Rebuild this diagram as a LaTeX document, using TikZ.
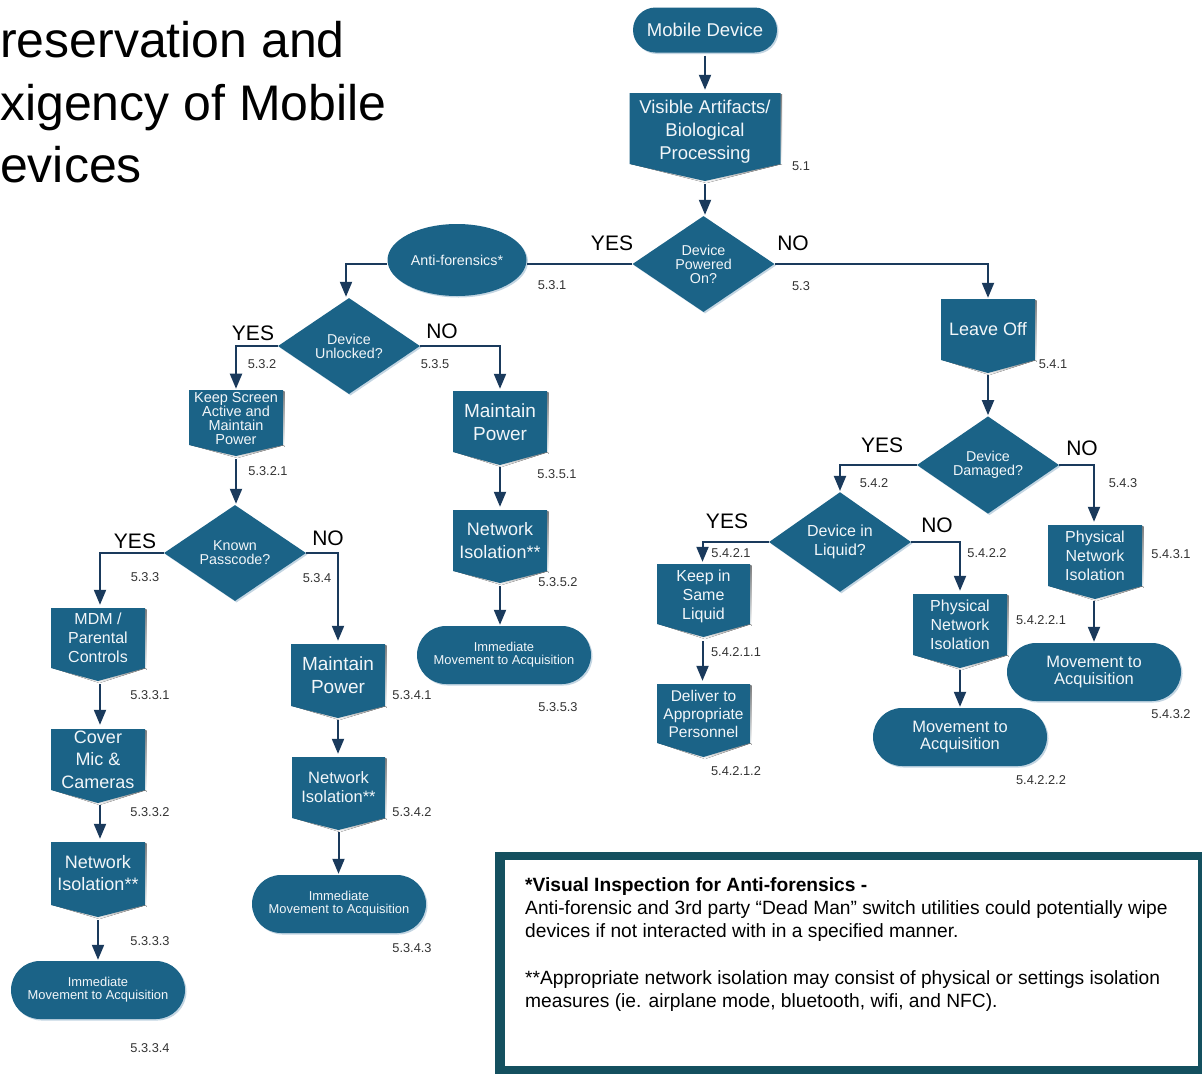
\documentclass[tikz,border=0pt]{standalone}
\usepackage{fontspec}
\setmainfont{Liberation Sans}
\usetikzlibrary{shapes.geometric,shapes.misc,arrows.meta,shadows}
\definecolor{boxblue}{HTML}{1B6387}
\definecolor{shade}{HTML}{C3D5E2}
\definecolor{linec}{HTML}{1A3A5C}
\definecolor{frame}{HTML}{14505F}
\definecolor{labelc}{HTML}{333333}
\definecolor{softwhite}{HTML}{F2F6F9}
\tikzset{
  flow/.style={fill=boxblue,text=softwhite,align=center,inner sep=0pt,
    copy shadow={shadow xshift=1.5pt,shadow yshift=-1.5pt,fill=shade,draw=none}},
  deci/.style={flow,diamond,minimum width=142pt,minimum height=96pt,font=\fontsize{14.3}{14}\selectfont},
  term/.style={flow,rounded rectangle,minimum width=174pt,minimum height=58pt},
  bodytxt/.style={rectangle,inner sep=0pt,text=softwhite,align=center},
  conn/.style={draw=linec,line width=2pt,-{Stealth[length=15pt,width=12pt,inset=0pt]},shorten >=1pt},
  numlab/.style={inner sep=0pt,text=labelc,font=\fontsize{12.8}{14}\selectfont},
  yn/.style={inner sep=0pt,text=black,font=\fontsize{21}{23}\selectfont},
  titletxt/.style={inner sep=0pt,anchor=base west,text=black,font=\fontsize{50}{56}\selectfont},
  notetxt/.style={inner sep=0pt,anchor=base west,text=black,font=\fontsize{19.2}{21}\selectfont}
}
% name, centre x, top y, width, rect height, tip height, font size, leading, text
\newcommand{\offp}[9]{%
  \fill[shade] ({#2-#4/2+1.5},{#3+1.5}) rectangle ({#2+#4/2+1.5},{#3+#5+1.5});
  \fill[shade] ({#2-#4/2+1.5},{#3+#5}) -- ({#2+#4/2+1.5},{#3+#5}) -- ({#2+1.5},{#3+#5+#6+2}) -- cycle;
  \fill[boxblue] ({#2-#4/2},#3) -- ({#2+#4/2},#3) -- ({#2+#4/2},{#3+#5}) -- (#2,{#3+#5+#6}) -- ({#2-#4/2},{#3+#5}) -- cycle;
  \node[bodytxt,minimum width=#4pt,minimum height=#5pt,font=\fontsize{#7}{#8}\selectfont] (#1) at (#2,{#3+#5/2}) {#9};
  \coordinate (#1-t) at (#2,{#3+#5+#6});
}
\newcommand{\lab}[4]{\node[numlab] (#1) at (#2,{#3+0.5}) {#4};}
\begin{document}
\begin{tikzpicture}[x=1pt,y=-1pt]
\useasboundingbox (0,0) rectangle (1202,1074);
\fill[white] (0,0) rectangle (1202,1074);

% title
\node[titletxt] (t1) at (0,57) {reservation and};
\node[titletxt] (t2) at (0,120) {xigency of Mobile};
\node[titletxt] (t3) at (0,182) {evices};

% top
\node[term,minimum width=144pt,minimum height=45pt,font=\fontsize{18.5}{21}\selectfont] (mobile) at (705,30) {Mobile Device};
\offp{vis}{705}{93}{151}{71}{17}{18.5}{23}{\rule{0pt}{19pt}Visible Artifacts/\\Biological\\Processing}
\node[deci] (dpow) at (703.5,264) {Device\\Powered\\On?};
\node[flow,ellipse,minimum width=139pt,minimum height=72pt,font=\fontsize{14.3}{15}\selectfont] (anti) at (457,260) {Anti-forensics*};
\node[deci] (dunl) at (349,346) {Device\\Unlocked?};

% left branch
\offp{keep}{236}{390}{94}{55}{11}{14.5}{14}{\rule{0pt}{13pt}Keep Screen\\Active and\\Maintain\\Power}
\node[deci] (dpass) at (235,553) {Known\\Passcode?};
\offp{mdm}{98}{608}{94}{60}{13}{16}{19}{MDM /\\Parental\\Controls}
\offp{cover}{98}{729}{94}{61}{13}{18}{22.5}{Cover\\Mic \&\\Cameras}
\offp{netA}{98}{842}{94}{63}{12}{18}{22}{Network\\Isolation**}
\node[term,font=\fontsize{12.9}{13}\selectfont] (immA) at (98,990) {Immediate\\Movement to Acquisition};
\offp{mpB}{338}{644}{94}{62}{12}{19}{23}{Maintain\\Power}
\offp{netB}{338.5}{757}{93}{61}{12}{16.5}{19}{Network\\Isolation**}
\node[term,font=\fontsize{12.9}{13}\selectfont] (immB) at (339,904) {Immediate\\Movement to Acquisition};
\offp{mpC}{500}{391}{94}{61}{13}{19}{23}{\rule{0pt}{16pt}Maintain\\Power}
\offp{netC}{500}{510}{94}{61}{12}{18}{23}{Network\\Isolation**}
\node[term,font=\fontsize{12.9}{13}\selectfont] (immC) at (504,655) {Immediate\\Movement to Acquisition};

% right branch
\offp{leave}{988}{299}{94}{61}{13}{18}{22}{Leave Off}
\node[deci] (ddam) at (988,465) {Device\\Damaged?};
\node[deci,font=\fontsize{16}{19}\selectfont] (dliq) at (840,542) {Device in\\Liquid?};
\offp{physA}{1095}{525}{94}{61}{13}{16}{19}{Physical\\Network\\Isolation}
\node[term,font=\fontsize{16.5}{17}\selectfont] (movA) at (1094,672) {Movement to\\Acquisition};
\offp{same}{703.5}{564}{93}{60}{13}{16}{19}{\rule{0pt}{17pt}Keep in\\Same\\Liquid}
\offp{deli}{703.5}{684}{93}{59}{14}{15.5}{18}{Deliver to\\Appropriate\\Personnel}
\offp{physB}{960}{594}{94}{61}{13}{16}{19}{Physical\\Network\\Isolation}
\node[term,font=\fontsize{16.5}{17}\selectfont] (movB) at (960,737) {Movement to\\Acquisition};

% connectors
\draw[conn,shorten <=3pt,shorten >=3pt] (mobile.south -| vis-t) -- (vis.north);
\draw[conn,shorten <=3pt,shorten >=1pt] (vis-t) -- (dpow.north -| vis-t);
\draw[draw=linec,line width=2pt] (dpow.west) -- (dpow.west -| anti.east);
\draw[conn] (anti.west |- dpow.west) -| (dunl.north -| 346,0);
\draw[conn] (dpow.east) -| (leave.north);
\draw[conn] (dunl.west) -| (keep.north);
\draw[conn,shorten >=2pt] (dunl.east) -| (mpC.north);
\draw[conn,shorten <=3pt] (keep-t) -- (dpass.north -| keep-t);
\draw[conn] (dpass.west) -| ([xshift=2pt,yshift=2pt]mdm.north);
\draw[conn] (dpass.east) -| ([yshift=2pt]mpB.north);
\draw[conn,shorten <=3pt] ([xshift=2pt]mdm-t) -- ([xshift=2pt,yshift=3pt]cover.north);
\draw[conn,shorten <=2pt] ([xshift=2pt]cover-t) -- ([xshift=2pt,yshift=2pt]netA.north);
\draw[conn,shorten <=3pt] (netA-t) -- (immA.north);
\draw[conn,shorten <=2pt] (mpB-t) -- ([yshift=2pt]netB.north -| mpB-t);
\draw[conn,shorten <=2pt] (netB-t) -- (immB.north -| netB-t);
\draw[conn,shorten <=2pt] (mpC-t) -- ([yshift=2pt]netC.north);
\draw[conn,shorten <=3pt] (netC-t) -- (immC.north -| netC-t);
\draw[conn,shorten <=2pt] (leave-t) -- (ddam.north);
\draw[conn] (ddam.west) -| (dliq.north);
\draw[conn] (ddam.east) -| ([xshift=-1pt,yshift=2pt]physA.north);
\draw[conn] (dliq.west) -| ([xshift=-1pt,yshift=1pt]same.north);
\draw[conn] (dliq.east) -| ([yshift=2pt]physB.north);
\draw[conn,shorten <=2pt] ([xshift=-1pt]physA-t) -- (movA.north);
\draw[conn,shorten <=4pt] ([xshift=-1pt]same-t) -- ([xshift=-1pt,yshift=2pt]deli.north);
\draw[conn,shorten <=2pt] (physB-t) -- (movB.north);

% yes / no
\node[yn] (y1) at (612,243) {YES};
\node[yn] (n1) at (793,243) {NO};
\node[yn] (y2) at (253,333) {YES};
\node[yn] (n2) at (442,331) {NO};
\node[yn] (y3) at (135,541) {YES};
\node[yn] (n3) at (328,538) {NO};
\node[yn] (y4) at (882,445) {YES};
\node[yn] (n4) at (1082,448) {NO};
\node[yn] (y5) at (727,521) {YES};
\node[yn] (n5) at (937,525) {NO};

% numbers
\lab{a1}{801}{166}{5.1}
\lab{a2}{801}{286}{5.3}
\lab{a3}{552}{285}{5.3.1}
\lab{a4}{262}{364}{5.3.2}
\lab{a5}{435}{364}{5.3.5}
\lab{a6}{268}{471}{5.3.2.1}
\lab{a7}{145}{577}{5.3.3}
\lab{a8}{317}{578}{5.3.4}
\lab{a9}{150}{695}{5.3.3.1}
\lab{a10}{150}{812}{5.3.3.2}
\lab{a11}{150}{941}{5.3.3.3}
\lab{a12}{150}{1048}{5.3.3.4}
\lab{a13}{412}{695}{5.3.4.1}
\lab{a14}{412}{812}{5.3.4.2}
\lab{a15}{412}{948}{5.3.4.3}
\lab{a16}{557}{474}{5.3.5.1}
\lab{a17}{558}{582}{5.3.5.2}
\lab{a18}{558}{707}{5.3.5.3}
\lab{a19}{1053}{364}{5.4.1}
\lab{a20}{874}{483}{5.4.2}
\lab{a21}{1123}{483}{5.4.3}
\lab{a22}{1171}{554}{5.4.3.1}
\lab{a23}{1171}{714}{5.4.3.2}
\lab{a24}{731}{553}{5.4.2.1}
\lab{a25}{987}{553}{5.4.2.2}
\lab{a26}{736}{652}{5.4.2.1.1}
\lab{a27}{736}{771}{5.4.2.1.2}
\lab{a28}{1041}{620}{5.4.2.2.1}
\lab{a29}{1041}{780}{5.4.2.2.2}

% note box
\node[fill=frame,inner sep=0pt,minimum width=707pt,minimum height=222pt] (noteframe) at (848.5,963) {};
\node[fill=white,inner sep=0pt,minimum width=693pt,minimum height=206pt] (noteinner) at (851,963) {};
\node[notetxt,font=\fontsize{19.2}{21}\selectfont\bfseries] (n-a) at (525,891) {*Visual Inspection for Anti-forensics -};
\node[notetxt] (n-b) at (525,914) {Anti-forensic and 3rd party “Dead Man” switch utilities could potentially wipe};
\node[notetxt] (n-c) at (525,937) {devices if not interacted with in a specified manner.};
\node[notetxt] (n-d) at (525,984) {**Appropriate network isolation may consist of physical or settings isolation};
\node[notetxt] (n-e) at (525,1007) {measures (ie. airplane mode, bluetooth, wifi, and NFC).};
\end{tikzpicture}
\end{document}
